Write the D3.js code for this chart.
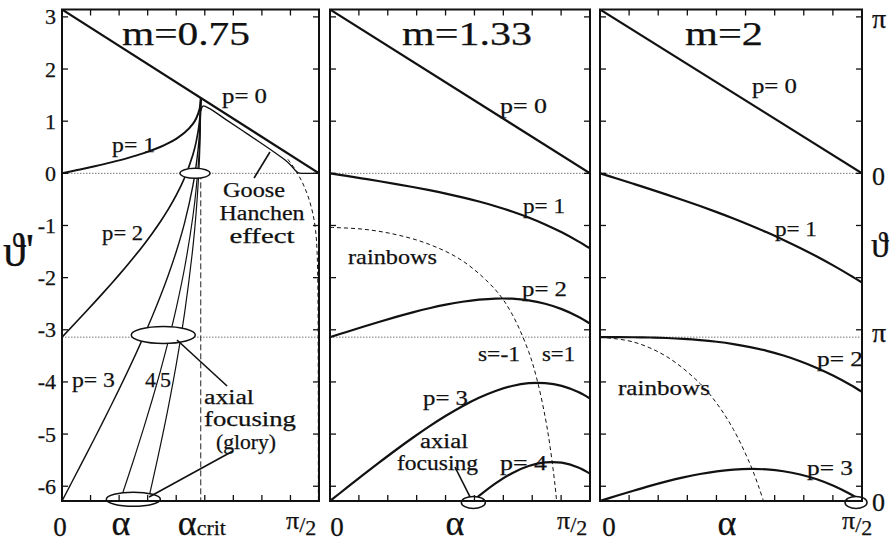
<!DOCTYPE html>
<html>
<head>
<meta charset="utf-8">
<script src="https://cdn.jsdelivr.net/npm/d3@7/dist/d3.min.js"></script>
<style>
  html, body { margin: 0; padding: 0; background: #fff; }
  svg { display: block; }
  text { font-family: "Liberation Serif", "Times New Roman", "DejaVu Serif", serif; fill: #111; stroke: #111; stroke-width: 0.25px; }
</style>
</head>
<body>
<svg id="chart" width="895" height="544"></svg>
<script>
// ---------------- values ----------------
const panelTitles = ["m=0.75", "m=1.33", "m=2"];
const thetaTicks = [-6, -5, -4, -3, -2, -1, 0, 1, 2, 3];
const thetaTickLabels = ["-6", "-5", "-4", "-3", "-2", "-1", "0", "1", "2", "3"];
const alphaTicksDeg = [10, 20, 30, 40, 50, 60, 70, 80];
const guideLevels = [0, -3.1416];
const rightAxisValues = [3.1416, 0, -3.1416, -6.2832];
const rightAxisLabels = ["π", "0", "π", "0"];
const alphaCrit = 0.8481;

// m = 0.75  (alpha [rad], theta' [rad])
const m075_p0 = [[0, 3.1416], [1.5708, 0]];
const m075_p1 = [[0, 0], [0.1, 0.067], [0.2, 0.1362], [0.3, 0.2100], [0.4, 0.2919], [0.5, 0.3870], [0.6, 0.5048], [0.65, 0.5778], [0.7, 0.6665], [0.75, 0.7810], [0.8, 0.9494], [0.82, 1.0523], [0.84, 1.2223], [0.848, 1.4249], [0.8481, 1.4454]];
const m075_p2 = [[0, -3.1416], [0.05, -2.9748], [0.1, -2.8076], [0.15, -2.6392], [0.2, -2.4692], [0.25, -2.2969], [0.3, -2.1216], [0.35, -1.9422], [0.4, -1.7578], [0.45, -1.5669], [0.5, -1.3676], [0.55, -1.1572], [0.6, -0.9321], [0.65, -0.6859], [0.7, -0.4087], [0.75, -0.0795], [0.8, 0.3572], [0.82, 0.6029], [0.84, 0.9830], [0.848, 1.4043], [0.8481, 1.4454]];
const m075_p3 = [[0, -6.2832], [0.05, -5.9831], [0.1, -5.6822], [0.15, -5.3797], [0.2, -5.0747], [0.25, -4.7662], [0.3, -4.4531], [0.35, -4.1342], [0.4, -3.8075], [0.45, -3.4711], [0.5, -3.1222], [0.55, -2.7566], [0.6, -2.3689], [0.65, -1.9497], [0.7, -1.4838], [0.75, -0.9401], [0.8, -0.2351], [0.82, 0.1536], [0.84, 0.7437], [0.848, 1.3836], [0.8481, 1.4454]];
const m075_p4 = [[0.3546, -6.2832], [0.36, -6.2333], [0.4, -5.8572], [0.45, -5.3753], [0.5, -4.8768], [0.55, -4.3560], [0.6, -3.8057], [0.65, -3.2134], [0.7, -2.5589], [0.75, -1.8006], [0.8, -0.8273], [0.82, -0.2957], [0.84, 0.5043], [0.848, 1.3630], [0.8481, 1.4454]];
const m075_p5 = [[0.5258, -6.2832], [0.55, -5.9554], [0.6, -5.2426], [0.65, -4.4772], [0.7, -3.6341], [0.75, -2.6612], [0.8, -1.4195], [0.82, -0.7451], [0.84, 0.2650], [0.848, 1.3423], [0.8481, 1.4454]];
const m075_gh = [[0.8481, 1.20], [0.862, 1.29], [0.90, 1.245], [1.00, 1.035], [1.10, 0.825], [1.20, 0.615], [1.30, 0.40], [1.36, 0.265], [1.40, 0.15], [1.425, 0.06], [1.445, 0.01], [1.47, 0], [1.5708, 0]];
const m075_ghDash = [[1.38, 0.27], [1.42, 0.10], [1.45, -0.06], [1.48, -0.25], [1.51, -0.50], [1.535, -0.80], [1.55, -1.10], [1.559, -1.50], [1.564, -2.20], [1.566, -3.50], [1.567, -6.2832]];

// m = 1.33
const m133_p0 = [[0, 3.1416], [1.5708, 0]];
const m133_p1 = [[0, 0], [0.1, -0.0497], [0.2, -0.1001], [0.3, -0.1519], [0.4, -0.2057], [0.5, -0.2625], [0.6, -0.3231], [0.7, -0.3887], [0.8, -0.4606], [0.9, -0.5404], [1.0, -0.6300], [1.1, -0.7314], [1.2, -0.8470], [1.3, -0.9798], [1.4, -1.1311], [1.5, -1.3039], [1.5708, -1.4398]];
const m133_p2 = [[0, -3.1416], [0.1, -3.0411], [0.2, -2.9418], [0.3, -2.8453], [0.4, -2.7530], [0.5, -2.6665], [0.6, -2.5878], [0.7, -2.5190], [0.8, -2.4628], [0.9, -2.4224], [1.0, -2.4016], [1.1, -2.4044], [1.2, -2.4356], [1.3, -2.5012], [1.4, -2.6037], [1.5, -2.7494], [1.5708, -2.8796]];
const m133_p3 = [[0, -6.2832], [0.1, -6.0324], [0.2, -5.7836], [0.3, -5.5388], [0.4, -5.3003], [0.5, -5.0706], [0.6, -4.8525], [0.7, -4.6492], [0.8, -4.4650], [0.9, -4.3044], [1.0, -4.1732], [1.1, -4.0774], [1.2, -4.0242], [1.3, -4.0226], [1.4, -4.0764], [1.5, -4.1948], [1.5708, -4.3194]];
const m133_p4 = [[0.864, -6.2832], [0.9, -6.1864], [1.0, -5.9448], [1.1, -5.7504], [1.2, -5.6128], [1.3, -5.5440], [1.4, -5.5490], [1.5, -5.6403], [1.5708, -5.7591]];
const m133_rainbow = [[0, -1.0367], [0.2, -1.0714], [0.4, -1.1755], [0.6, -1.3627], [0.8, -1.6769], [1.0, -2.2355], [1.1, -2.6997], [1.2, -3.4180], [1.25, -3.9462], [1.3, -4.6725], [1.33, -5.2512], [1.36, -5.9960], [1.369, -6.2832]];

// m = 2
const m2_p0 = [[0, 3.1416], [1.5708, 0]];
const m2_p1 = [[0, 0], [0.1, -0.1001], [0.2, -0.2010], [0.3, -0.3034], [0.4, -0.4081], [0.5, -0.5159], [0.6, -0.6276], [0.7, -0.7441], [0.8, -0.8663], [0.9, -0.9951], [1.0, -1.1315], [1.1, -1.2763], [1.2, -1.4304], [1.3, -1.5946], [1.4, -1.7696], [1.5, -1.9557], [1.5708, -2.0944]];
const m2_p2 = [[0, -3.1416], [0.1, -3.1419], [0.2, -3.1436], [0.3, -3.1484], [0.4, -3.1578], [0.5, -3.1733], [0.6, -3.1968], [0.7, -3.2298], [0.8, -3.2742], [0.9, -3.3318], [1.0, -3.4046], [1.1, -3.4942], [1.2, -3.6024], [1.3, -3.7309], [1.4, -3.8807], [1.5, -4.0530], [1.5708, -4.1888]];
const m2_p3 = [[0, -6.2832], [0.1, -6.1836], [0.2, -6.0862], [0.3, -5.9934], [0.4, -5.9074], [0.5, -5.8308], [0.6, -5.7659], [0.7, -5.7154], [0.8, -5.6821], [0.9, -5.6686], [1.0, -5.6776], [1.1, -5.7121], [1.2, -5.7745], [1.3, -5.8671], [1.4, -5.9919], [1.5, -6.1503], [1.5708, -6.2832]];
const m2_rainbow = [[0, -3.1416], [0.2, -3.2336], [0.4, -3.5148], [0.6, -4.0309], [0.7, -4.4118], [0.8, -4.9107], [0.9, -5.5760], [0.95, -5.9952], [0.98, -6.2832]];

// ---------------- layout ----------------
const svg = d3.select("#chart");
const plotTop = 9.5, plotBottom = 501;
const layout = [
  { left: 62, right: 319, titleDx: 60, titleLen: 128 },
  { left: 330, right: 590, titleDx: 72, titleLen: 130 },
  { left: 600, right: 862, titleDx: 85, titleLen: 78 }
];
const y = d3.scaleLinear().domain([-2 * Math.PI, Math.PI]).range([plotBottom, plotTop]);
const xs = layout.map(p => d3.scaleLinear().domain([0, Math.PI / 2]).range([p.left, p.right]));
const [x1, x2, x3] = xs;

const curves = [
  [
    { data: m075_p0, w: 2.2 }, { data: m075_p1, w: 2 }, { data: m075_p2, w: 1.7 },
    { data: m075_p3, w: 1.4 }, { data: m075_p4, w: 1.2 }, { data: m075_p5, w: 1.2 },
    { data: m075_gh, w: 1.3 }, { data: m075_ghDash, w: 1, dash: "4,3" }
  ],
  [
    { data: m133_p0, w: 2.2 }, { data: m133_p1, w: 2.2 }, { data: m133_p2, w: 2.2 },
    { data: m133_p3, w: 2.2 }, { data: m133_p4, w: 2.2 }, { data: m133_rainbow, w: 1, dash: "4,3" }
  ],
  [
    { data: m2_p0, w: 2.2 }, { data: m2_p1, w: 2.2 }, { data: m2_p2, w: 2.2 },
    { data: m2_p3, w: 2.2 }, { data: m2_rainbow, w: 1, dash: "4,3" }
  ]
];

const defs = svg.append("defs");
layout.forEach((p, i) => {
  defs.append("clipPath").attr("id", "clip" + i)
    .append("rect").attr("x", p.left).attr("y", plotTop)
    .attr("width", p.right - p.left).attr("height", plotBottom - plotTop);
});

// guide lines, curves
layout.forEach((p, i) => {
  const xsc = xs[i];
  const g = svg.append("g").attr("clip-path", `url(#clip${i})`);
  g.selectAll("line.guide").data(guideLevels).join("line")
    .attr("class", "guide")
    .attr("x1", p.left).attr("x2", p.right)
    .attr("y1", d => y(d)).attr("y2", d => y(d))
    .attr("stroke", "#777").attr("stroke-width", 1).attr("stroke-dasharray", "1.5,1.5");

  if (i === 0) {
    g.append("line")
      .attr("x1", xsc(alphaCrit)).attr("x2", xsc(alphaCrit))
      .attr("y1", y(0)).attr("y2", y(-2 * Math.PI))
      .attr("stroke", "#222").attr("stroke-width", 1).attr("stroke-dasharray", "6,3");
  }

  const gen = d3.line().x(d => xsc(d[0])).y(d => y(d[1])).curve(d3.curveCatmullRom.alpha(0.5));
  curves[i].forEach(c => {
    g.append("path").attr("d", gen(c.data))
      .attr("fill", "none").attr("stroke", "#111")
      .attr("stroke-width", c.w)
      .attr("stroke-linejoin", "round")
      .attr("stroke-dasharray", c.dash || null);
  });
});

// focusing ellipses
const ellipses = [
  { xs: x1, a: 0.813, t: 0, rx: 15, ry: 5 },
  { xs: x1, a: 0.619, t: -3.10, rx: 32, ry: 8.5 },
  { xs: x1, a: 0.436, t: -6.25, rx: 27, ry: 7 },
  { xs: x2, a: 0.866, t: -6.31, rx: 12, ry: 6 },
  { xs: x3, a: 1.535, t: -6.31, rx: 11, ry: 6 }
];
ellipses.forEach(e => {
  svg.append("ellipse")
    .attr("cx", e.xs(e.a)).attr("cy", y(e.t))
    .attr("rx", e.rx).attr("ry", e.ry)
    .attr("fill", "#fff").attr("stroke", "#111").attr("stroke-width", 1.5);
});

// pointer lines
const pointers = [
  { xs: x1, from: [1.174, -0.0897], to: [1.271, 0.4091] },
  { xs: x1, from: [0.703, -3.196], to: [1.009, -4.078] },
  { xs: x1, from: [1.045, -5.324], to: [0.532, -6.206] },
  { xs: x2, from: [0.755, -5.631], to: [0.846, -6.206] }
];
pointers.forEach(pt => {
  svg.append("line")
    .attr("x1", pt.xs(pt.from[0])).attr("y1", y(pt.from[1]))
    .attr("x2", pt.xs(pt.to[0])).attr("y2", y(pt.to[1]))
    .attr("stroke", "#111").attr("stroke-width", 1.6);
});

// frames and ticks
layout.forEach((p, i) => {
  const xsc = xs[i];
  svg.append("rect")
    .attr("x", p.left).attr("y", plotTop)
    .attr("width", p.right - p.left).attr("height", plotBottom - plotTop)
    .attr("fill", "none").attr("stroke", "#111").attr("stroke-width", 2);
  const tk = 6;
  thetaTicks.forEach(t => {
    svg.append("line").attr("x1", p.left).attr("x2", p.left + tk)
      .attr("y1", y(t)).attr("y2", y(t)).attr("stroke", "#111").attr("stroke-width", 1.3);
    svg.append("line").attr("x1", p.right - tk).attr("x2", p.right)
      .attr("y1", y(t)).attr("y2", y(t)).attr("stroke", "#111").attr("stroke-width", 1.3);
  });
  alphaTicksDeg.forEach(dg => {
    const xv = xsc(dg * Math.PI / 180);
    svg.append("line").attr("x1", xv).attr("x2", xv)
      .attr("y1", plotTop).attr("y2", plotTop + tk).attr("stroke", "#111").attr("stroke-width", 1.3);
    svg.append("line").attr("x1", xv).attr("x2", xv)
      .attr("y1", plotBottom - tk).attr("y2", plotBottom).attr("stroke", "#111").attr("stroke-width", 1.3);
  });
  svg.append("text")
    .attr("x", p.left + p.titleDx).attr("y", 45)
    .attr("font-size", 33)
    .attr("textLength", p.titleLen).attr("lengthAdjust", "spacingAndGlyphs")
    .text(panelTitles[i]);
});

// text helper placed in data units
function addText(xsc, a, t, str, size, len, anchor) {
  const el = svg.append("text")
    .attr("x", xsc(a)).attr("y", y(t))
    .attr("font-size", size)
    .attr("text-anchor", anchor || "start")
    .text(str);
  if (len) el.attr("textLength", len).attr("lengthAdjust", "spacingAndGlyphs");
  return el;
}

// left axis labels
thetaTicks.forEach((t, k) => {
  svg.append("text")
    .attr("x", 56).attr("y", y(t) + 7.5)
    .attr("font-size", 22).attr("text-anchor", "end")
    .text(thetaTickLabels[k]);
});
svg.append("text").attr("x", 3).attr("y", 266).attr("font-size", 46).text("ϑ'");

// right axis labels (scattering angle modulo 2π)
const rightDy = [18.5, 11.5, 5, 10];
rightAxisValues.forEach((v, k) => {
  svg.append("text")
    .attr("x", 872).attr("y", y(v) + rightDy[k])
    .attr("font-size", rightAxisLabels[k] === "π" ? 28 : 26)
    .text(rightAxisLabels[k]);
});
svg.append("text").attr("x", 871).attr("y", 257).attr("font-size", 36).text("ϑ");

// bottom axis labels
function halfPi(xsc, dx) {
  const t = svg.append("text").attr("x", xsc(Math.PI / 2) + dx).attr("y", 529);
  t.append("tspan").attr("font-size", 26).text("π");
  t.append("tspan").attr("font-size", 22).attr("dy", 3).text("/");
  t.append("tspan").attr("font-size", 22).attr("dy", 3).text("2");
}
const zeroDx = [-2, 7, 9];
const alphaPos = [0.36, 0.755, 0.761];
const halfPiDx = [-33, -33, -20];
xs.forEach((xsc, i) => {
  svg.append("text").attr("x", xsc(0) + zeroDx[i]).attr("y", 536)
    .attr("font-size", 27).attr("text-anchor", "middle").text("0");
  svg.append("text").attr("x", xsc(alphaPos[i])).attr("y", 535)
    .attr("font-size", 36).attr("text-anchor", "middle").text("α");
  halfPi(xsc, halfPiDx[i]);
});
{
  const t = svg.append("text").attr("x", x1(alphaCrit) - 23).attr("y", 535);
  t.append("tspan").attr("font-size", 36).text("α");
  t.append("tspan").attr("font-size", 22).text("crit");
}

// panel m=0.75 annotations
addText(x1, 0.978, 1.348, "p= 0", 22, 45);
addText(x1, 0.306, 0.409, "p= 1", 22, 43);
addText(x1, 0.245, -1.278, "p= 2", 22, 41);
addText(x1, 0.061, -4.097, "p= 3", 22, 43);
addText(x1, 0.507, -4.097, "4", 22);
addText(x1, 0.599, -4.097, "5", 22);
addText(x1, 1.174, -0.445, "Goose", 20, 62, "middle");
addText(x1, 1.2225, -0.895, "Hanchen", 20, 85, "middle");
addText(x1, 1.2225, -1.335, "effect", 20, 65, "middle");
addText(x1, 0.868, -4.42, "axial", 20, 50);
addText(x1, 0.868, -4.845, "focusing", 20, 92);
addText(x1, 0.941, -5.285, "(glory)", 20, 60);

// panel m=1.33 annotations
addText(x2, 1.027, 1.157, "p= 0", 22, 47);
addText(x2, 1.166, -0.761, "p= 1", 22, 42);
addText(x2, 0.109, -1.739, "rainbows", 22, 89);
addText(x2, 1.160, -2.352, "p= 2", 22, 45);
addText(x2, 0.894, -3.598, "s=-1", 22, 42);
addText(x2, 1.281, -3.598, "s=1", 22, 33);
addText(x2, 0.562, -4.442, "p= 3", 22, 45);
addText(x2, 0.544, -5.265, "axial", 20, 48);
addText(x2, 0.405, -5.695, "focusing", 20, 81);
addText(x2, 1.027, -5.689, "p= 4", 22, 47);

// panel m=2 annotations
addText(x3, 0.911, 1.540, "p= 0", 22, 45);
addText(x3, 1.049, -1.202, "p= 1", 22, 42);
addText(x3, 1.301, -3.695, "p= 2", 22, 46);
addText(x3, 0.108, -4.251, "rainbows", 22, 92);
addText(x3, 1.241, -5.785, "p= 3", 22, 46);
</script>
</body>
</html>
